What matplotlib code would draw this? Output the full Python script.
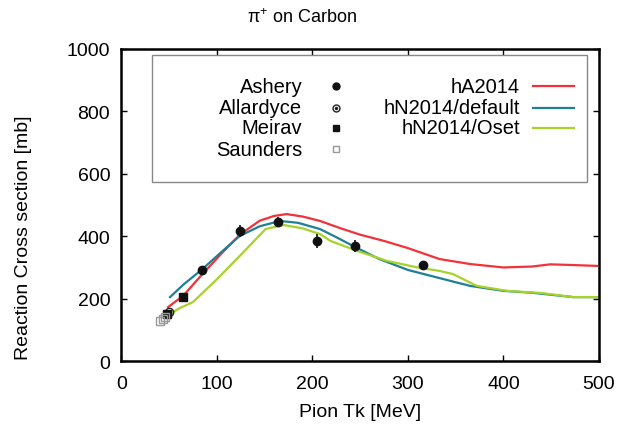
import matplotlib
matplotlib.use("Agg")
import matplotlib.pyplot as plt
from matplotlib.patches import Rectangle

plt.rcParams['font.family'] = ['Liberation Sans', 'DejaVu Sans']

# model curves: pion kinetic energy [MeV] vs reaction cross section [mb]
hA_T = [49, 65, 85, 105, 124, 145, 160, 173, 190, 208, 230, 250, 275, 300, 333, 365, 400, 430, 449, 470, 498]
hA_xs = [173, 210, 279, 345, 405, 450, 465, 471, 463, 449, 425, 405, 385, 362, 327, 311, 300, 303, 310, 308, 305]

hNdef_T = [51, 65, 85, 105, 124, 145, 166, 185, 208, 225, 245, 270, 300, 333, 365, 400, 430, 473, 500]
hNdef_xs = [205, 245, 295, 350, 401, 432, 449, 443, 423, 397, 365, 327, 292, 266, 241, 225, 219, 205, 205]

hNoset_T = [51, 60, 75, 100, 125, 151, 170, 190, 208, 219, 245, 278, 310, 333, 347, 372, 404, 440, 473, 500]
hNoset_xs = [150, 168, 189, 262, 340, 423, 436, 425, 407, 385, 355, 321, 300, 289, 279, 241, 225, 218, 205, 205]

# data
ashery_T = [85, 124, 164, 205, 245, 316]
ashery_xs = [292, 417, 446, 384, 369, 308]
ashery_err = [12, 20, 15, 22, 20, 12]

allardyce_T = [50]
allardyce_xs = [158]

meirav_T = [48, 65]
meirav_xs = [152, 205]

saunders_T = [41, 44, 46]
saunders_xs = [128, 135, 142]

fig = plt.figure(figsize=(6.22, 4.27), dpi=100)
ax = fig.add_axes([0.195, 0.152, 0.768, 0.731])

red = '#f2323a'
teal = '#1f7f98'
green = '#a6d22a'

ax.plot(hA_T, hA_xs, color=red, lw=1.6)
ax.plot(hNdef_T, hNdef_xs, color=teal, lw=1.6)
ax.plot(hNoset_T, hNoset_xs, color=green, lw=1.6)

ax.errorbar(ashery_T, ashery_xs, yerr=ashery_err, fmt='o', color='#111111',
            ms=6, elinewidth=1.2, capsize=0)
ax.plot(allardyce_T, allardyce_xs, 'o', mfc='none', mec='#222222', ms=6, mew=1)
ax.plot(allardyce_T, allardyce_xs, 'o', color='#222222', ms=2)
ax.plot(meirav_T, meirav_xs, 's', color='#111111', ms=6)
ax.plot(saunders_T, saunders_xs, 's', mfc='none', mec='#999999', ms=6, mew=1)

ax.set_xlim(0, 500)
ax.set_ylim(0, 1000)
ax.set_xticks(range(0, 501, 100))
ax.set_yticks(range(0, 1001, 200))
ax.tick_params(direction='in', top=True, right=True, length=4, width=1,
               labelsize=14)
ax.tick_params(axis='x', pad=10)
ax.tick_params(axis='y', pad=8)
for s in ax.spines.values():
    s.set_linewidth(1.8)

ax.set_xlabel('Pion Tk [MeV]', fontsize=14)
ax.set_ylabel('Reaction Cross section [mb]', fontsize=14)
ax.xaxis.set_label_coords(0.5, -0.135)
ax.yaxis.set_label_coords(-0.186, 0.397)
fig.text(0.486, 0.958, r'$\mathregular{\pi^{+}}$ on Carbon', fontsize=13,
         ha='center', va='center')

# legend box in gnuplot style
tr = ax.transAxes
ax.add_patch(Rectangle((0.065, 0.574), 0.91, 0.407, transform=tr,
                       fill=False, ec='#888888', lw=1, zorder=5))
rows = [0.881, 0.811, 0.747, 0.679]
data_labels = ['Ashery', 'Allardyce', 'Meirav', 'Saunders']
for lab, y in zip(data_labels, rows):
    ax.text(0.379, y, lab, transform=tr, ha='right', va='center', fontsize=14.5)
mx = 0.45
ax.plot([mx], [rows[0]], 'o', color='#111111', ms=5, transform=tr)
ax.plot([mx], [rows[1]], 'o', mfc='none', mec='#222222', ms=5, mew=1, transform=tr)
ax.plot([mx], [rows[1]], 'o', color='#222222', ms=1.5, transform=tr)
ax.plot([mx], [rows[2]], 's', color='#111111', ms=5, transform=tr)
ax.plot([mx], [rows[3]], 's', mfc='none', mec='#999999', ms=5, mew=1, transform=tr)

model_labels = ['hA2014', 'hN2014/default', 'hN2014/Oset']
for lab, y, c in zip(model_labels, rows, [red, teal, green]):
    ax.text(0.835, y, lab, transform=tr, ha='right', va='center', fontsize=14.5)
    ax.plot([0.862, 0.948], [y, y], color=c, lw=1.6, transform=tr)

fig.savefig('out.png', dpi=100)
